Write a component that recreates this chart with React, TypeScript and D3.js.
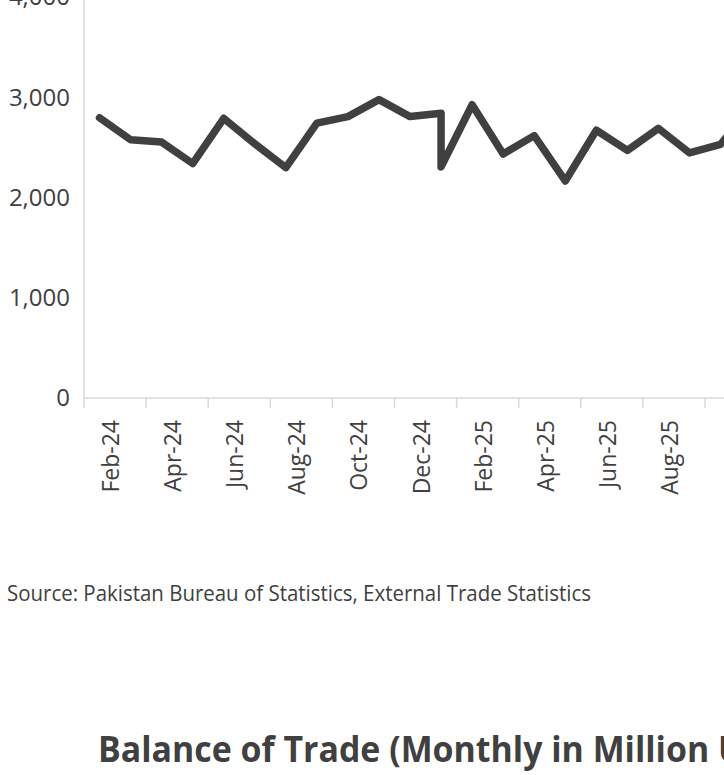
import React, { useLayoutEffect, useRef, useState } from "react";
import * as d3 from "d3";

// month offsets from Jan-24 (two observations fall in the Dec-24 slot)
const monthOffsets = [0, 1, 2, 3, 4, 5, 6, 7, 8, 9, 10, 11, 11, 12, 13, 14, 15, 16, 17, 18, 19, 20, 21, 22];
const exportValues = [2795, 2576, 2553, 2339, 2790, 2536, 2298, 2742, 2807, 2976, 2807, 2841, 2305, 2925, 2434, 2617, 2165, 2671, 2470, 2690, 2445, 2530, 2900, 2700];
const tickLabels = ["Feb-24", "Apr-24", "Jun-24", "Aug-24", "Oct-24", "Dec-24", "Feb-25", "Apr-25", "Jun-25", "Aug-25"];
const yTicks = [0, 1000, 2000, 3000, 4000];
const sourceText = "Source: Pakistan Bureau of Statistics, External Trade Statistics";
const titleText = "Balance of Trade (Monthly in Million US$)";
const titleVisiblePart = "Balance of Trade (Monthly in Million ";

const W = 724;
const H = 775;
const TEXT = "#404040";
const AXIS = "#d9d9d9";

export default function App() {
  const x = d3.scaleLinear().domain([-0.5, 21.5]).range([84, 84 + 31.05 * 22]);
  const y = d3.scaleLinear().domain([0, 4000]).range([398, -3]);
  const pts: [number, number][] = monthOffsets.map((m, i) => [m, exportValues[i]]);
  const line = d3
    .line<[number, number]>()
    .x((d) => x(d[0]))
    .y((d) => y(d[1]));

  const titleRef = useRef<SVGTextElement>(null);
  const [titleScale, setTitleScale] = useState(0.85);
  useLayoutEffect(() => {
    const el = titleRef.current;
    if (!el) return;
    try {
      const w = el.getSubStringLength(0, titleVisiblePart.length);
      if (w > 0) setTitleScale(620 / w);
    } catch (e) {}
  }, []);

  const tickPositions = d3.range(0, 12).map((k) => 2 * k - 0.5);

  return (
    <div style={{ position: "fixed", left: 0, top: 0, width: W, height: H, background: "#fff" }}>
      <svg width={W} height={H} style={{ display: "block" }} fontFamily="'Open Sans', sans-serif">
        <line x1={84} x2={84} y1={0} y2={y(0)} stroke={AXIS} strokeWidth={1.5} />
        <line x1={84} x2={W} y1={y(0)} y2={y(0)} stroke={AXIS} strokeWidth={1.5} />
        {tickPositions.map((t, i) => (
          <line key={i} x1={x(t)} x2={x(t)} y1={y(0)} y2={y(0) + 10} stroke={AXIS} strokeWidth={1.5} />
        ))}
        {yTicks.map((v) => (
          <text key={v} x={70} y={y(v)} dy="0.35em" textAnchor="end" fontSize={24} fill={TEXT}>
            {d3.format(",")(v)}
          </text>
        ))}
        {tickLabels.map((lab, k) => {
          const cx = x(2 * k + 0.5) + 4;
          return (
            <text key={lab} transform={`translate(${cx},420) rotate(-90)`} textAnchor="end" fontSize={23} fill={TEXT}>
              {lab}
            </text>
          );
        })}
        <path d={line(pts) || ""} fill="none" stroke={TEXT} strokeWidth={7.5} strokeLinejoin="round" strokeLinecap="round" />
        <text x={7} y={601} fontSize={21} fill={TEXT} textLength={584} lengthAdjust="spacingAndGlyphs">
          {sourceText}
        </text>
        <text
          ref={titleRef}
          transform={`translate(98,762) scale(${titleScale},1)`}
          fontSize={35}
          fontWeight="bold"
          fill={TEXT}
        >
          {titleText}
        </text>
      </svg>
    </div>
  );
}
